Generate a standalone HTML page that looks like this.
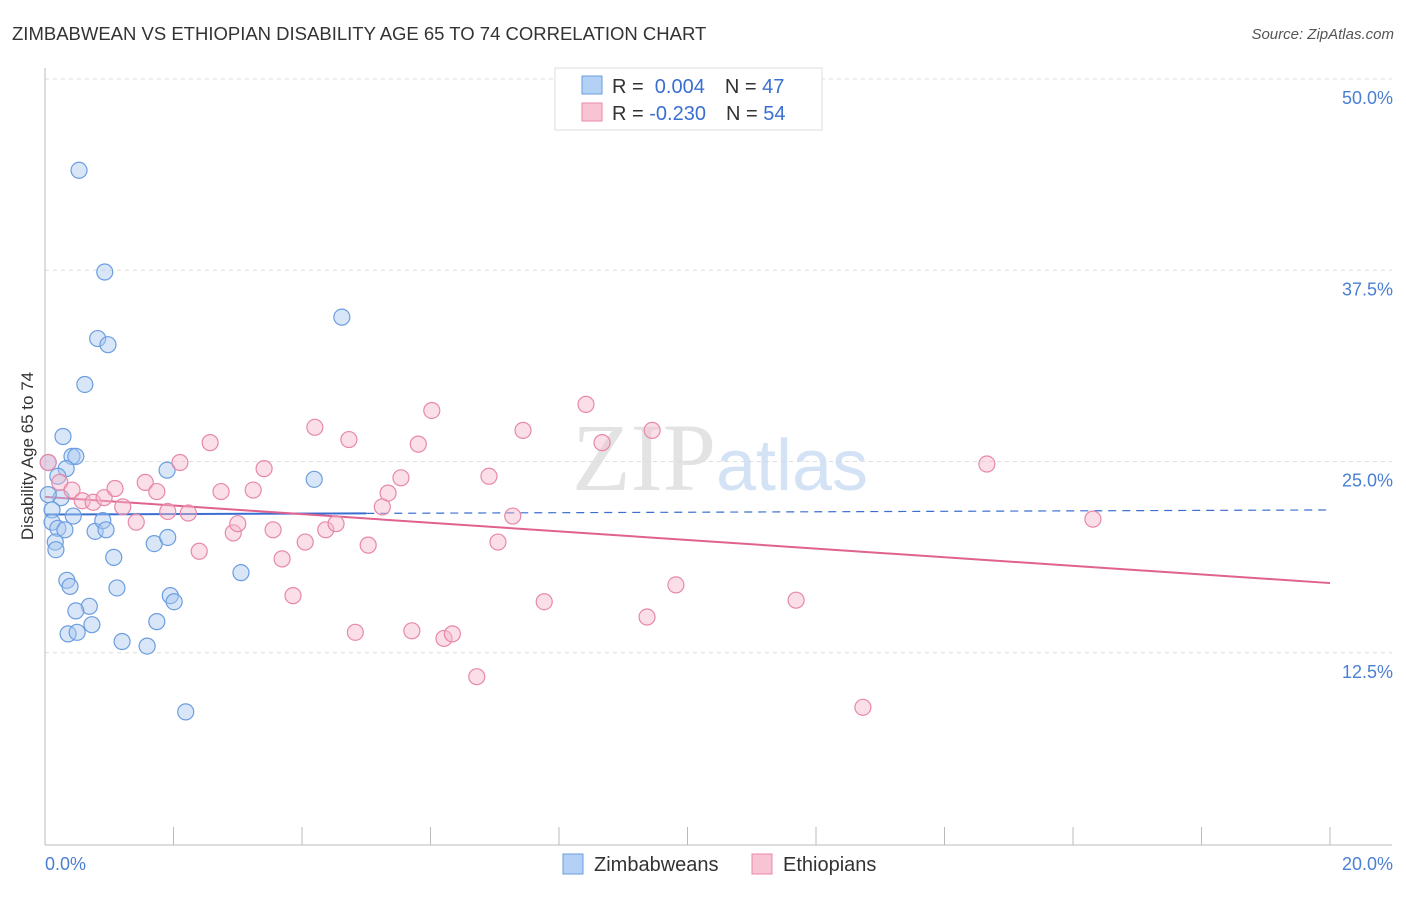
<!DOCTYPE html>
<html><head><meta charset="utf-8"><style>
body{margin:0;background:#fff;font-family:"Liberation Sans",sans-serif;}
</style></head><body>
<svg width="1406" height="892" xmlns="http://www.w3.org/2000/svg" font-family="Liberation Sans, sans-serif">
<text x="12" y="40" font-size="18.5" fill="#333">ZIMBABWEAN VS ETHIOPIAN DISABILITY AGE 65 TO 74 CORRELATION CHART</text>
<text x="1394" y="39" font-size="15" fill="#555" text-anchor="end" font-style="italic">Source: ZipAtlas.com</text>
<g id="grid"></g>
<text x="720" y="490" font-size="96" text-anchor="middle" fill="#ddd" font-family="Liberation Serif, serif" opacity="0.8">ZIP<tspan fill="#c9dcf2" font-family="Liberation Sans, sans-serif" font-size="72">atlas</tspan></text>
<g id="axes"></g>
<g id="lines"></g>
<g id="points"></g>
<text transform="translate(33,456) rotate(-90)" font-size="17" fill="#333" text-anchor="middle">Disability Age 65 to 74</text>
<text x="45" y="870" font-size="18" fill="#4a7fd4">0.0%</text>
<text x="1393" y="870" font-size="18" fill="#4a7fd4" text-anchor="end">20.0%</text>
<g>
<rect x="555" y="68" width="267" height="62" fill="#fff" stroke="#ddd"/>
<rect x="582" y="76" width="20" height="18" fill="#b3d0f5" stroke="#6b9ee0"/>
<rect x="582" y="103" width="20" height="18" fill="#f8c4d4" stroke="#e888a8"/>
<text x="612" y="93" font-size="20" fill="#333">R = <tspan fill="#3a6fd1">&#160;0.004</tspan><tspan dx="20">N = </tspan><tspan fill="#3a6fd1">47</tspan></text>
<text x="612" y="120" font-size="20" fill="#333">R = <tspan fill="#3a6fd1">-0.230</tspan><tspan dx="20">N = </tspan><tspan fill="#3a6fd1">54</tspan></text>
</g>
<g>
<rect x="563" y="854" width="20" height="20" fill="#b3d0f5" stroke="#6b9ee0"/>
<text x="594" y="871" font-size="20" fill="#333">Zimbabweans</text>
<rect x="752" y="854" width="20" height="20" fill="#f8c4d4" stroke="#e888a8"/>
<text x="783" y="871" font-size="20" fill="#333">Ethiopians</text>
</g>
</svg>
<script>
const yTicks=[12.5,25,37.5,50];
const yTickLabels=["12.5%","25.0%","37.5%","50.0%"];
const xTicks=[0,2,4,6,8,10,12,14,16,18,20];
const blueX=[0.53,0.93,0.82,0.98,0.62,4.62,0.28,0.42,0.48,0.33,0.2,0.05,0.25,0.05,0.11,0.44,0.11,0.2,0.31,0.16,0.17,0.78,0.9,0.95,1.9,4.19,1.7,1.91,1.07,3.05,0.34,0.39,1.12,1.95,2.01,0.69,0.48,0.73,1.74,0.36,0.5,1.2,1.59,2.19];
const blueY=[44.1,37.45,33.1,32.7,30.1,34.5,26.7,25.4,25.4,24.6,24.1,25.0,22.7,22.9,21.9,21.5,21.1,20.7,20.6,19.8,19.3,20.5,21.2,20.6,24.5,23.9,19.7,20.1,18.8,17.8,17.3,16.9,16.8,16.3,15.9,15.6,15.3,14.4,14.6,13.8,13.9,13.3,13.0,8.7];
const pinkX=[0.05,0.23,0.42,0.58,0.75,0.92,1.09,1.21,1.42,1.56,1.74,1.91,2.1,2.23,2.4,2.57,2.74,2.93,3.0,3.24,3.41,3.55,3.69,3.86,4.05,4.2,4.37,4.53,4.73,4.83,5.03,5.25,5.34,5.54,5.71,5.81,6.02,6.21,6.34,6.72,6.91,7.05,7.28,7.44,7.77,8.42,8.67,9.37,9.45,9.82,11.69,12.73,14.66,16.31];
const pinkY=[25.0,23.7,23.2,22.5,22.4,22.7,23.3,22.1,21.1,23.7,23.1,21.8,25.0,21.7,19.2,26.3,23.1,20.4,21.0,23.2,24.6,20.6,18.7,16.3,19.8,27.3,20.6,21.0,26.5,13.9,19.6,22.1,23.0,24.0,14.0,26.2,28.4,13.5,13.8,11.0,24.1,19.8,21.5,27.1,15.9,28.8,26.3,14.9,27.1,17.0,16.0,9.0,24.9,21.3];
const blueTrend=[21.6,21.9];
const pinkTrend=[22.75,17.12];
const NS="http://www.w3.org/2000/svg";
const X=v=>45+v*64.25, Y=v=>845-v*15.3;
function mk(t,a,p){const e=document.createElementNS(NS,t);for(const k in a)e.setAttribute(k,a[k]);document.getElementById(p).appendChild(e);return e;}
yTicks.forEach((t,i)=>{
 const g=mk('line',{x1:45,x2:1392,y1:Y(t)-1,y2:Y(t)-1,stroke:'#ddd','stroke-dasharray':'4,4'},'grid');
 
 
 const l=mk('text',{x:1393,y:Y(t)+24,'font-size':18,fill:'#4a7fd4','text-anchor':'end'},'grid');
 
 
 l.textContent=yTickLabels[i];
});
let a=mk('line',{x1:45,x2:45,y1:68,y2:845,stroke:'#bbb'},'axes');


a=mk('line',{x1:45,x2:1392,y1:845,y2:845,stroke:'#bbb'},'axes');


xTicks.forEach(t=>{const e=mk('line',{x1:X(t),x2:X(t),y1:827,y2:845,stroke:'#bbb'},'axes');
 
 });
function pts(xs,ys,fill,stroke,name){xs.forEach((x,i)=>{const c=mk('circle',{cx:X(x),cy:Y(ys[i]),r:8,fill:fill,'fill-opacity':0.45,stroke:stroke,'stroke-width':1.2},'points');
 
 });}
pts(blueX,blueY,'#a9c8ef','#6b9ee0','zimbabwean-point');
pts(pinkX,pinkY,'#f5b8cb','#e888a8','ethiopian-point');
const bm=5;
const by=v=>blueTrend[0]+(blueTrend[1]-blueTrend[0])*v/20;
let l=mk('line',{x1:X(0),y1:Y(by(0)),x2:X(bm),y2:Y(by(bm)),stroke:'#3a6fd1','stroke-width':2},'lines');


l=mk('line',{x1:X(bm),y1:Y(by(bm)),x2:X(20),y2:Y(by(20)),stroke:'#3a6fd1','stroke-width':1.2,'stroke-dasharray':'8,6'},'lines');


l=mk('line',{x1:X(0),y1:Y(pinkTrend[0]),x2:X(20),y2:Y(pinkTrend[1]),stroke:'#e0628f','stroke-width':2},'lines');


</script>
</body></html>
